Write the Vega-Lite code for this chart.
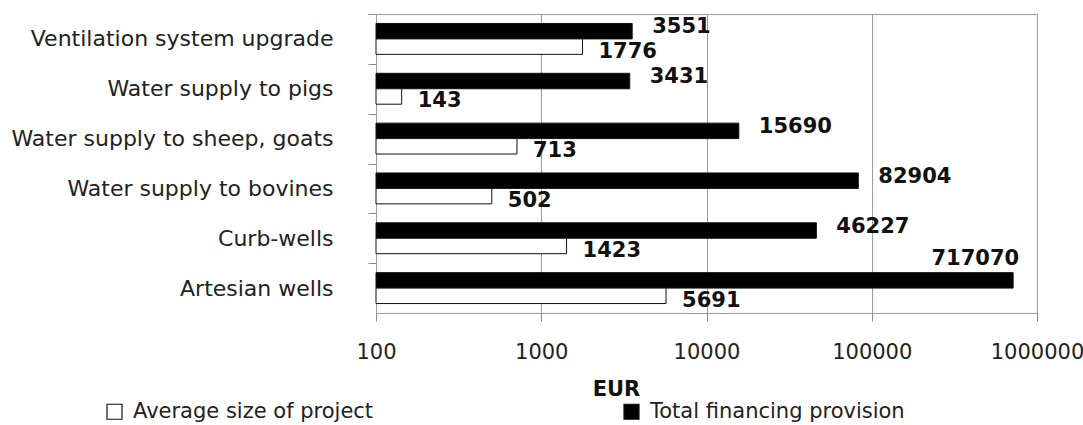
{
  "$schema": "https://vega.github.io/schema/vega-lite/v6.json",
  "width": 661,
  "height": 299,
  "autosize": {"type": "none"},
  "padding": {"left": 376, "top": 14, "right": 46, "bottom": 112},
  "background": "white",
  "config": {
    "font": "DejaVu Sans",
    "view": {"stroke": "#9a9a9a", "strokeWidth": 1}
  },
  "data": {
    "values": [
      {"category": "Ventilation system upgrade", "series": "Total financing provision", "value": 3551},
      {"category": "Ventilation system upgrade", "series": "Average size of project", "value": 1776},
      {"category": "Water supply to pigs", "series": "Total financing provision", "value": 3431},
      {"category": "Water supply to pigs", "series": "Average size of project", "value": 143},
      {"category": "Water supply to sheep, goats", "series": "Total financing provision", "value": 15690},
      {"category": "Water supply to sheep, goats", "series": "Average size of project", "value": 713},
      {"category": "Water supply to bovines", "series": "Total financing provision", "value": 82904},
      {"category": "Water supply to bovines", "series": "Average size of project", "value": 502},
      {"category": "Curb-wells", "series": "Total financing provision", "value": 46227},
      {"category": "Curb-wells", "series": "Average size of project", "value": 1423},
      {"category": "Artesian wells", "series": "Total financing provision", "value": 717070},
      {"category": "Artesian wells", "series": "Average size of project", "value": 5691}
    ]
  },
  "encoding": {
    "y": {
      "field": "category",
      "type": "nominal",
      "sort": null,
      "scale": {"paddingInner": 0.38, "paddingOuter": 0.19},
      "axis": {
        "title": null,
        "labelFontSize": 22,
        "labelColor": "#222",
        "labelPadding": 35,
        "tickSize": 8,
        "tickColor": "#888",
        "tickOffset": -24.9,
        "labelOffset": 24.9,
        "domainColor": "#9a9a9a",
        "grid": false,
        "labelLimit": 400
      }
    },
    "yOffset": {
      "field": "series",
      "type": "nominal",
      "sort": ["Total financing provision", "Average size of project"],
      "scale": {"paddingInner": 0, "paddingOuter": 0}
    },
    "x": {
      "field": "value",
      "type": "quantitative",
      "scale": {"type": "log", "domain": [100, 1000000], "nice": false},
      "axis": {
        "title": "EUR",
        "titleFontSize": 21,
        "titleFontWeight": "bold",
        "titleColor": "#111",
        "titleX": 240,
        "titleY": 82,
        "titleBaseline": "alphabetic",
        "titleAlign": "center",
        "values": [100, 1000, 10000, 100000, 1000000],
        "format": "d",
        "labelFontSize": 21,
        "labelColor": "#222",
        "labelPadding": 20,
        "tickSize": 8,
        "tickColor": "#888",
        "grid": true,
        "gridColor": "#9a9a9a",
        "domainColor": "#9a9a9a",
        "labelFlush": false,
        "labelOverlap": false,
        "labelBound": false
      }
    }
  },
  "layer": [
    {
      "mark": {"type": "bar", "stroke": "#111", "strokeWidth": 1},
      "encoding": {
        "x2": {"datum": 100},
        "fill": {
          "field": "series",
          "type": "nominal",
          "scale": {
            "domain": ["Average size of project", "Total financing provision"],
            "range": ["white", "black"]
          },
          "legend": {
            "title": null,
            "orient": "none",
            "legendX": -272,
            "legendY": 387,
            "direction": "horizontal",
            "columns": 2,
            "columnPadding": 247,
            "symbolType": "square",
            "symbolSize": 225,
            "symbolStrokeColor": "#111",
            "symbolStrokeWidth": 1.2,
            "labelFontSize": 21,
            "labelColor": "#222",
            "labelOffset": 8,
            "labelLimit": 400
          }
        }
      }
    },
    {
      "transform": [{"filter": "datum.series == 'Total financing provision' && datum.value < 500000"}],
      "mark": {"type": "text", "align": "left", "baseline": "middle", "dx": 20, "dy": -4, "fontWeight": "bold", "fontSize": 21, "color": "#111"},
      "encoding": {"text": {"field": "value", "type": "quantitative", "format": "d"}}
    },
    {
      "transform": [{"filter": "datum.series == 'Total financing provision' && datum.value >= 500000"}],
      "mark": {"type": "text", "align": "right", "baseline": "middle", "dx": 6, "dy": -21, "fontWeight": "bold", "fontSize": 21, "color": "#111"},
      "encoding": {"text": {"field": "value", "type": "quantitative", "format": "d"}}
    },
    {
      "transform": [{"filter": "datum.series == 'Average size of project'"}],
      "mark": {"type": "text", "align": "left", "baseline": "middle", "dx": 16, "dy": 5, "fontWeight": "bold", "fontSize": 21, "color": "#111"},
      "encoding": {"text": {"field": "value", "type": "quantitative", "format": "d"}}
    }
  ]
}
